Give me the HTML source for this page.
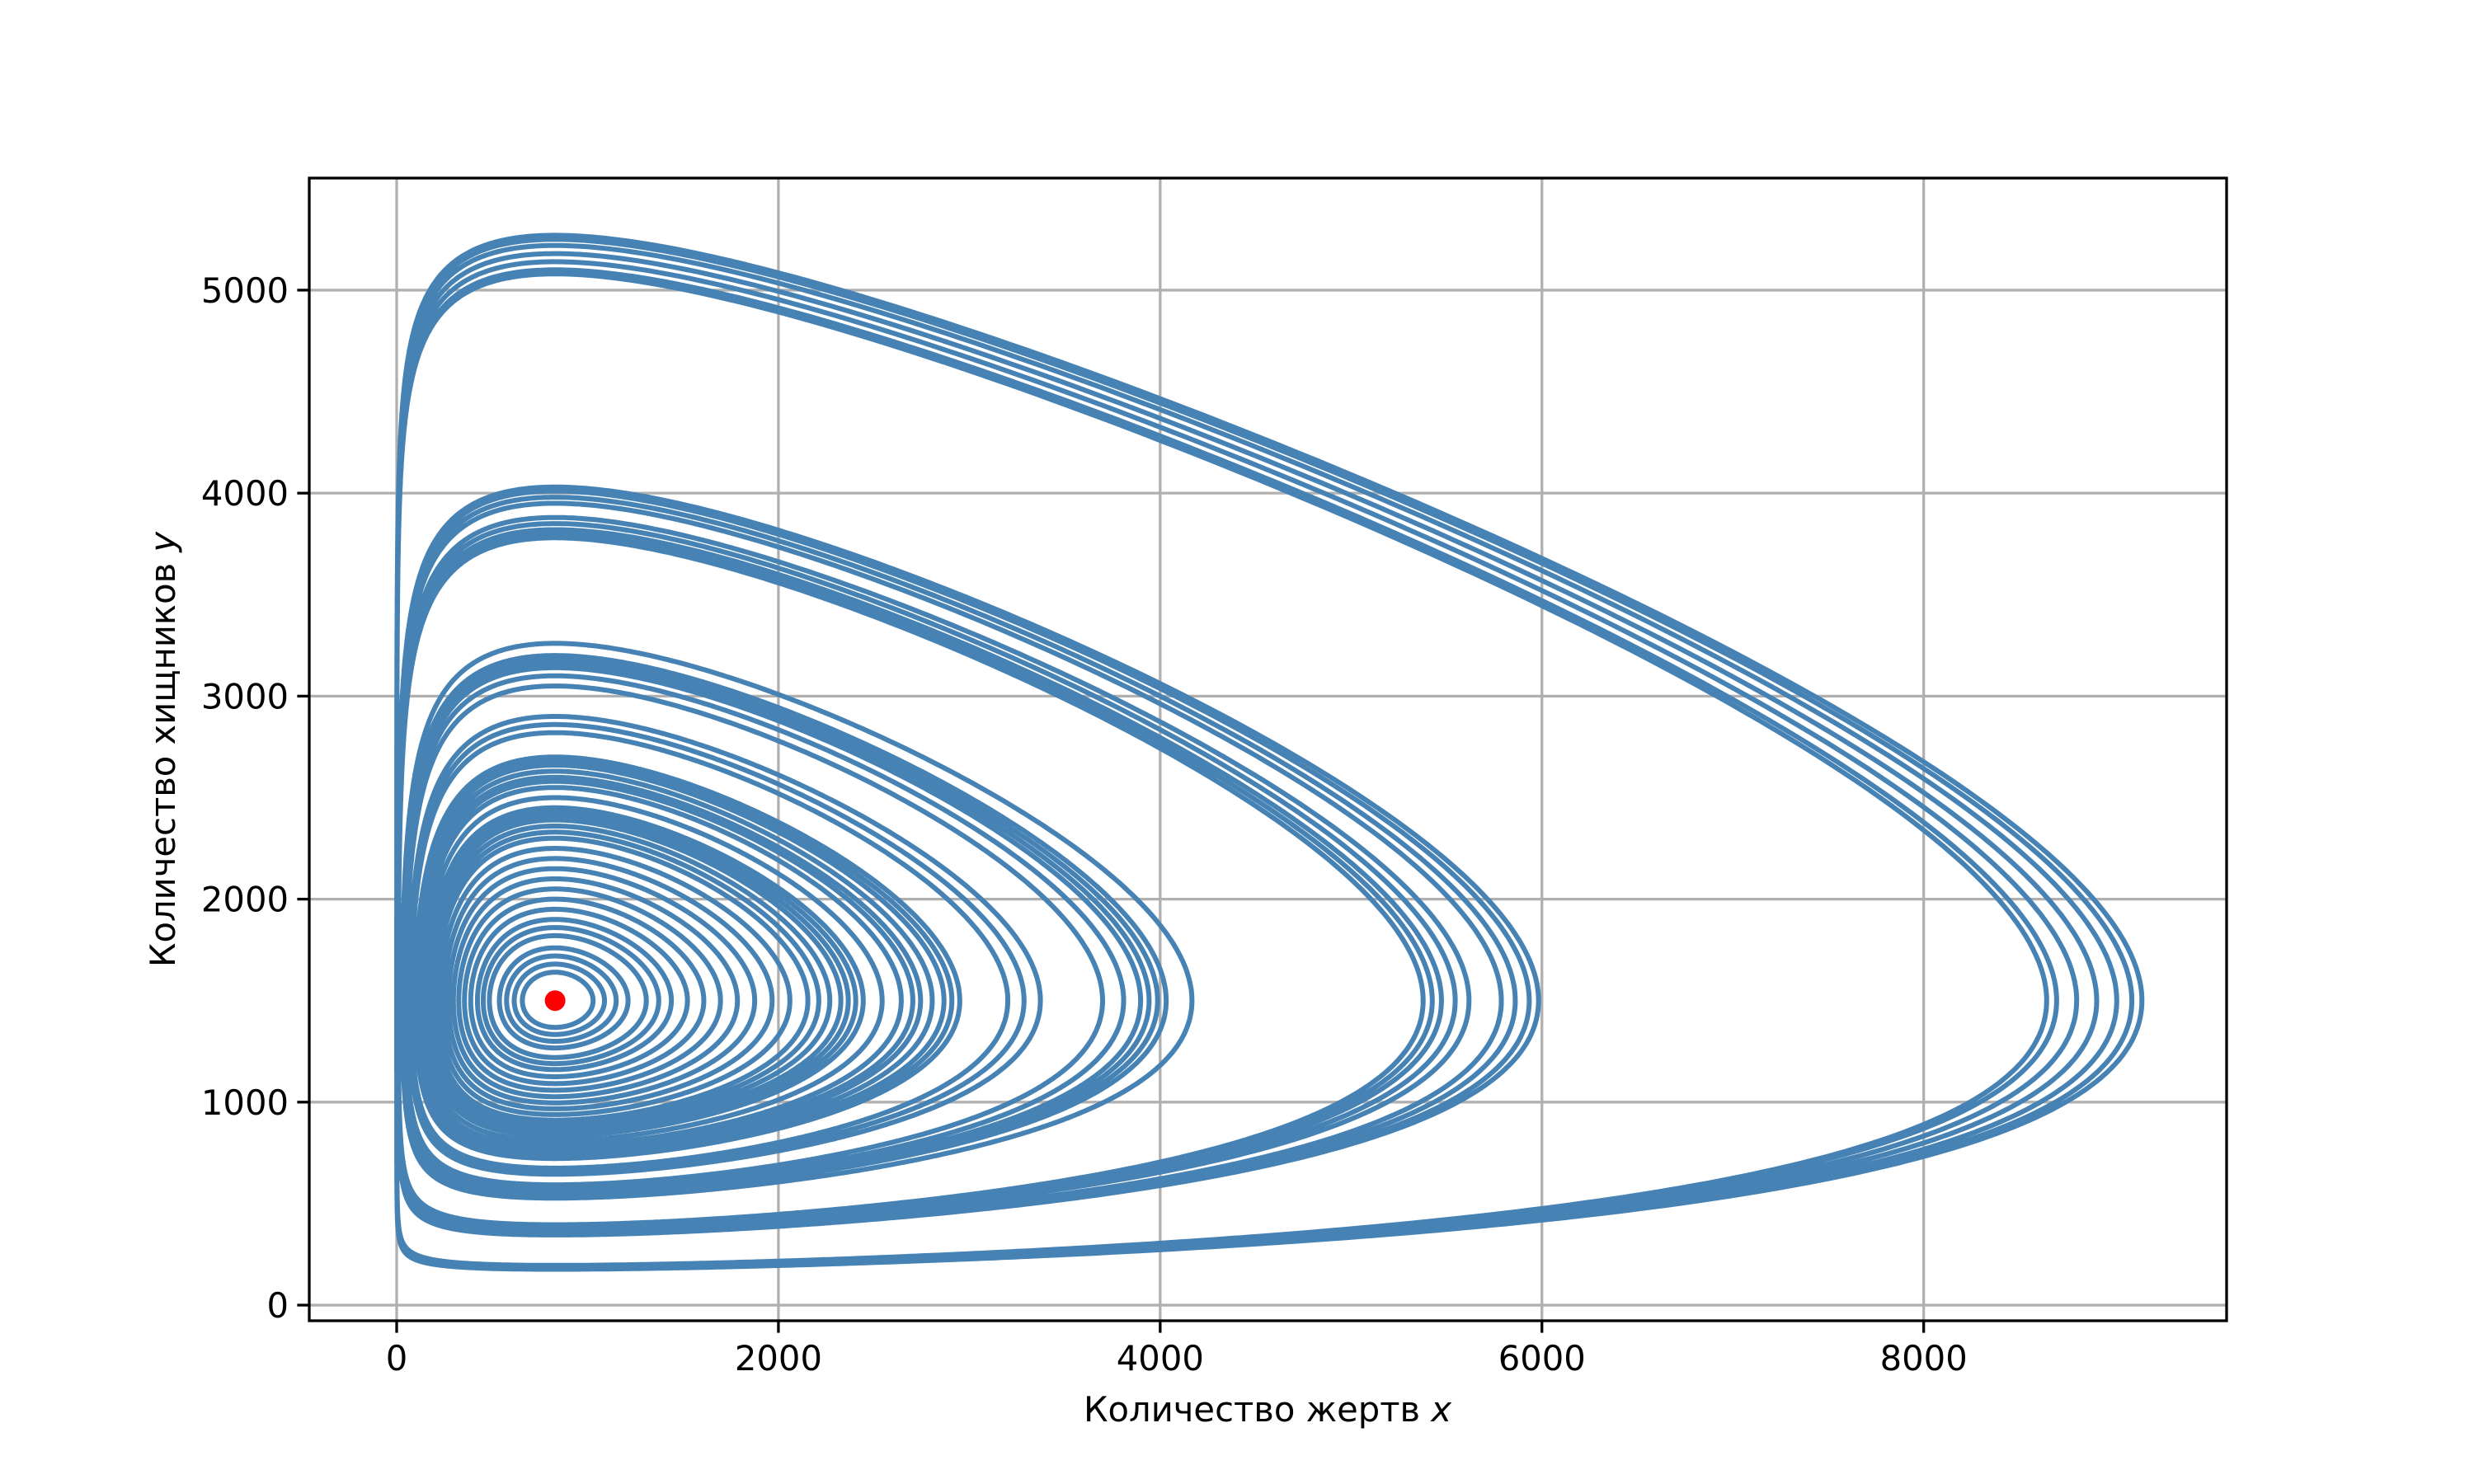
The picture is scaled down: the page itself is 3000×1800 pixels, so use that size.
<!DOCTYPE html>
<html><head><meta charset="utf-8"><style>
html,body{margin:0;padding:0;background:#fff}
svg{display:block}
text{font-family:"DejaVu Sans","Liberation Sans",sans-serif;fill:#000}
</style></head><body>
<svg id="chart" width="3000" height="1800" viewBox="0 0 3000 1800" xmlns="http://www.w3.org/2000/svg">
<rect width="3000" height="1800" fill="#fff"/>
<g id="grid"></g>
<g id="plot"></g>
<g id="axes"></g>
<text x="1537" y="1724" font-size="41.7" text-anchor="middle">Количество жертв <tspan font-style="italic">x</tspan></text>
<text transform="translate(212,909) rotate(-90)" font-size="41.7" text-anchor="middle">Количество хищников <tspan font-style="italic">y</tspan></text>
</svg>
<script>
const xTicks=[0,2000,4000,6000,8000];
const yTicks=[0,1000,2000,3000,4000,5000];
const equilibrium=[830,1500];
const orbitTops=[5270,5250,5220,5180,5140,5100,5080,4030,4010,3980,3950,3880,3850,3820,3800,3780,3260,3200,3180,3160,3140,3100,3050,2900,2860,2820,2700,2680,2660,2630,2600,2580,2550,2500,2450,2430,2410,2390,2360,2330,2300,2250,2200,2150,2100,2050,2000,1950,1900,1860,1820,1760,1720,1680,1640];
const preyDecay=0.165;
const L=375,R=2700,T=216,B=1602;
const xMin=-458,xMax=9587,yMin=-77,yMax=5552;
const sx=v=>L+(v-xMin)/(xMax-xMin)*(R-L);
const sy=v=>B-(v-yMin)/(yMax-yMin)*(B-T);
const NS="http://www.w3.org/2000/svg";
function mk(tag,attrs,parent){const e=document.createElementNS(NS,tag);for(const k in attrs)e.setAttribute(k,attrs[k]);parent.appendChild(e);return e;}
const grid=document.getElementById('grid'),axes=document.getElementById('axes'),plot=document.getElementById('plot');
xTicks.forEach(v=>{
 const g=mk('line',{x1:sx(v),x2:sx(v),y1:T,y2:B,stroke:'#b0b0b0','stroke-width':3.3},grid);
 
 const t=mk('line',{x1:sx(v),x2:sx(v),y1:B,y2:B+14.6,stroke:'#000','stroke-width':3.3},axes);
 
 const l=mk('text',{x:sx(v),y:B+60,'font-size':41.7,'text-anchor':'middle'},axes);l.textContent=v;
 
});
yTicks.forEach(v=>{
 const g=mk('line',{x1:L,x2:R,y1:sy(v),y2:sy(v),stroke:'#b0b0b0','stroke-width':3.3},grid);
 
 const t=mk('line',{x1:L-14.6,x2:L,y1:sy(v),y2:sy(v),stroke:'#000','stroke-width':3.3},axes);
 
 const l=mk('text',{x:L-25,y:sy(v)+15,'font-size':41.7,'text-anchor':'end'},axes);l.textContent=v;
 
});
const fr=mk('rect',{x:L,y:T,width:R-L,height:B-T,fill:'none',stroke:'#000','stroke-width':3.3},axes);

const xs=equilibrium[0],ys=equilibrium[1];
function deriv(p,q){return [1-Math.exp(q)/ys, preyDecay*(Math.exp(p)/xs-1)];}
let d='';
orbitTops.forEach(top=>{
 let p=Math.log(xs),q=Math.log(top),dt=0.003;
 let pts=[[sx(xs),sy(top)]];
 for(let i=0;i<200000;i++){
  const k1=deriv(p,q),k2=deriv(p+dt/2*k1[0],q+dt/2*k1[1]),k3=deriv(p+dt/2*k2[0],q+dt/2*k2[1]),k4=deriv(p+dt*k3[0],q+dt*k3[1]);
  const np=p+dt/6*(k1[0]+2*k2[0]+2*k3[0]+k4[0]),nq=q+dt/6*(k1[1]+2*k2[1]+2*k3[1]+k4[1]);
  const done=i>100&&p>Math.log(xs)&&np<=Math.log(xs)&&nq>Math.log(ys);
  p=np;q=nq;
  if(i%4===0||done)pts.push([sx(Math.exp(p)),sy(Math.exp(q))]);
  if(done)break;
 }
 d+='M'+pts.map(a=>a[0].toFixed(1)+','+a[1].toFixed(1)).join('L');
});
const path=mk('path',{d:d,fill:'none',stroke:'#4682b4','stroke-width':6,'stroke-linejoin':'round'},plot);


const dot=mk('circle',{cx:sx(xs),cy:sy(ys),r:12.5,fill:'#ff0000'},plot);


</script>
</body></html>
